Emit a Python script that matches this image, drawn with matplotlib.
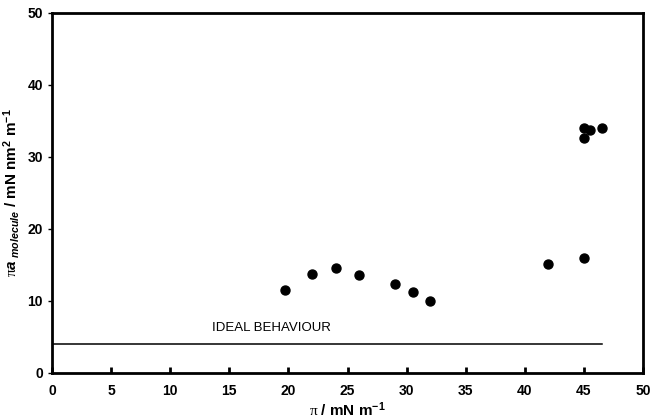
import matplotlib
matplotlib.use('Agg')
import matplotlib.pyplot as plt
import numpy as np

plt.rcParams['font.family'] = ['Liberation Sans', 'DejaVu Sans']
plt.rcParams['mathtext.fontset'] = 'custom'
plt.rcParams['mathtext.rm'] = 'Liberation Serif'
plt.rcParams['mathtext.it'] = 'Liberation Sans:bold:italic'
plt.rcParams['mathtext.bf'] = 'Liberation Sans:bold'

# pressure (mN/m) and pi*a values
pi_vals = [19.7, 22.0, 24.0, 26.0, 29.0, 30.5, 32.0, 42.0, 45.0, 45.0, 45.5, 45.0, 46.5]
pia_vals = [11.5, 13.7, 14.6, 13.6, 12.3, 11.2, 10.0, 15.2, 16.0, 34.0, 33.8, 32.6, 34.0]
ideal_x = [0, 46.5]
ideal_y = [4, 4]

fig = plt.figure(figsize=(6.52, 4.19), dpi=100)
ax = fig.add_axes([0.0798, 0.1098, 0.9064, 0.8592])

ax.plot(ideal_x, ideal_y, color='black', linewidth=1.1)
ax.scatter(pi_vals, pia_vals, s=42, color='black', zorder=3)
ax.text(13.5, 5.9, 'IDEAL BEHAVIOUR', fontsize=9.5)

ax.set_xlim(0, 50)
ax.set_ylim(0, 50)
ax.set_xticks(np.arange(0, 51, 5))
ax.set_yticks(np.arange(0, 51, 10))
for s in ax.spines.values():
    s.set_linewidth(2)
ax.tick_params(axis='x', direction='in', length=4, width=2, labelsize=10, pad=8)
ax.tick_params(axis='y', direction='out', length=3, width=1, labelsize=10)
for lbl in ax.get_xticklabels() + ax.get_yticklabels():
    lbl.set_fontweight('bold')

ax.set_xlabel(r'$\mathrm{\pi}$ / mN m$^{\mathbf{-1}}$', fontsize=11, fontweight='bold', labelpad=2)
ax.set_ylabel(r'$\mathrm{\pi}\mathit{a}_{\ \mathit{molecule}}$ / mN nm$^{\mathbf{2}}$ m$^{\mathbf{-1}}$',
              fontsize=11, fontweight='bold', labelpad=4)

fig.savefig('out.png', dpi=100)
